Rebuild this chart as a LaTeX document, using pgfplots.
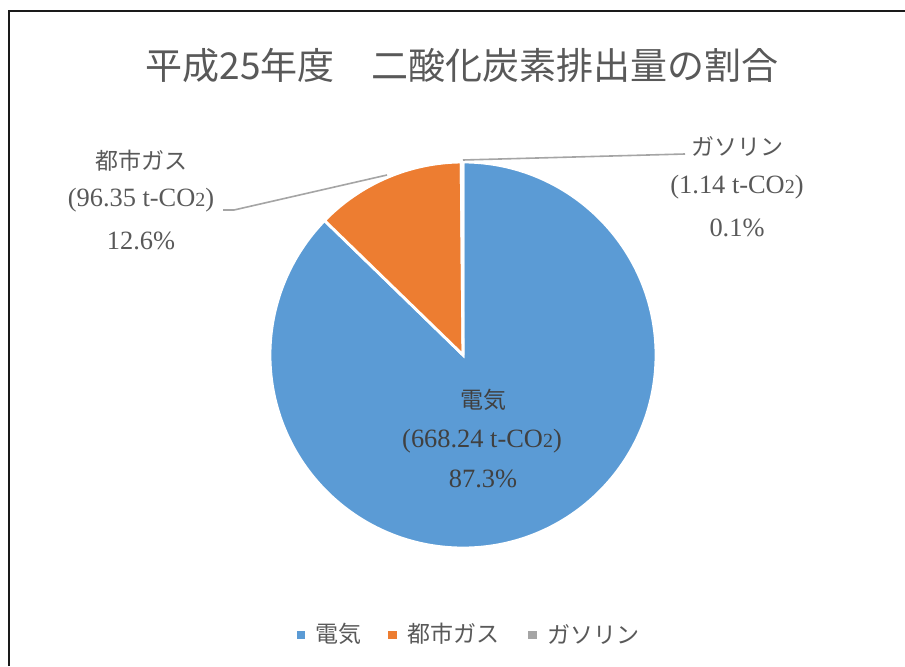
\documentclass[border=0pt]{standalone}
\usepackage{pgfplots}
\pgfplotsset{compat=1.18}
\usepackage{fontspec}
\setmainfont{Liberation Serif}
\newfontfamily\jp{Noto Sans CJK JP}
\definecolor{c1}{HTML}{5B9BD5}
\definecolor{c2}{HTML}{ED7D31}
\definecolor{c3}{HTML}{A5A5A5}
\definecolor{txt}{HTML}{595959}
\definecolor{txtd}{HTML}{404040}
\definecolor{frame}{HTML}{1A1A1A}
% data (t-CO2)
\def\vA{668.24}\def\vB{96.35}\def\vC{1.14}
\pgfmathsetmacro\tot{\vA+\vB+\vC}
\pgfmathsetmacro\fA{\vA/\tot}
\pgfmathsetmacro\fB{\vB/\tot}
\pgfmathsetmacro\fC{\vC/\tot}
\pgfmathsetmacro\aA{90-360*\fA}
\pgfmathsetmacro\aB{\aA-360*\fB}
\pgfmathsetmacro\aC{\aB-360*\fC}
\newcommand\lab{\fontsize{13.2}{15}\selectfont}
\newcommand\labjp{\jp\fontsize{11.5}{14}\selectfont}
\newcommand\cotwo{CO\raisebox{-0.3pt}{\fontsize{10}{10}\selectfont 2}}
\begin{document}
\begin{tikzpicture}[x=0.5pt,y=0.5pt]
\path[use as bounding box] (0,0) rectangle (905,666);
\fill[white] (0,0) rectangle (905,666);
% frame
\draw[frame, line width=1pt] (8.5,0) -- (8.5,666-11.5) -- (905,666-11.5);
% title
\node[txt, font=\jp\fontsize{18.5}{22}\selectfont] at (462,666-65) {平成25年度　二酸化炭素排出量の割合};
\begin{axis}[
  at={(231.5pt,155.5pt)}, anchor=origin,
  x=96.5pt, y=96.5pt,
  xmin=-1, xmax=1, ymin=-1, ymax=1,
  hide axis, clip=false]
\filldraw[c1, draw=white, line width=1.4pt] (axis cs:0,0) -- (axis cs:{cos(90)},{sin(90)}) arc[start angle=90, end angle=\aA, radius=96.5pt] -- cycle;
\filldraw[c2, draw=white, line width=1.4pt] (axis cs:0,0) -- (axis cs:{cos(\aA)},{sin(\aA)}) arc[start angle=\aA, end angle=\aB, radius=96.5pt] -- cycle;
\filldraw[c3, draw=white, line width=1.4pt] (axis cs:0,0) -- (axis cs:{cos(\aB)},{sin(\aB)}) arc[start angle=\aB, end angle=\aC, radius=96.5pt] -- cycle;
\end{axis}
% leader lines
\draw[c3, line width=0.8pt] (223,666-210) -- (234,666-210) -- (387,666-175);
\draw[c3, line width=0.8pt] (463,666-160) -- (685,666-154);
% labels
\node[txt, font=\labjp] at (141,666-161) {都市ガス};
\node[txt, font=\lab] at (141,666-200) {(96.35 t-\cotwo)};
\node[txt, font=\lab] at (141,666-241) {12.6\%};
\node[txt, font=\labjp] at (737,666-146) {ガソリン};
\node[txt, font=\lab] at (737,666-187) {(1.14 t-\cotwo)};
\node[txt, font=\lab] at (737,666-228) {0.1\%};
\node[txtd, font=\labjp] at (483,666-400) {電気};
\node[txtd, font=\lab] at (482,666-441) {(668.24 t-\cotwo)};
\node[txtd, font=\lab] at (483,666-479) {87.3\%};
% legend
\fill[c1] (297,666-631) rectangle (305,666-639);
\node[txt, font=\labjp, anchor=west, inner sep=0pt] at (315,666-634) {電気};
\fill[c2] (388,666-631) rectangle (397,666-639);
\node[txt, font=\labjp, anchor=west, inner sep=0pt] at (407,666-634) {都市ガス};
\fill[c3] (528,666-631) rectangle (537,666-639);
\node[txt, font=\labjp, anchor=west, inner sep=0pt] at (547,666-634) {ガソリン};
\end{tikzpicture}
\end{document}
